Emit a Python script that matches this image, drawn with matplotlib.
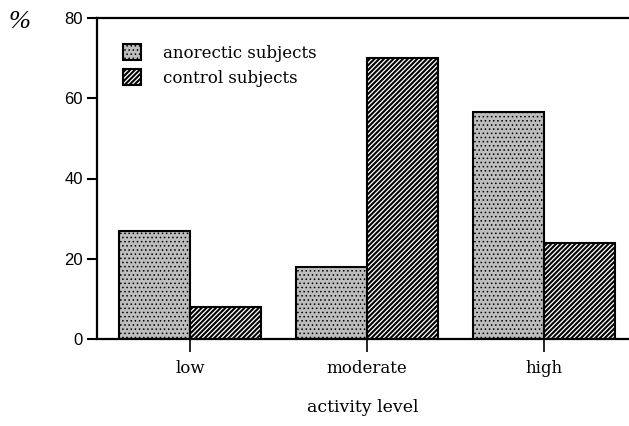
import matplotlib.pyplot as plt
import numpy as np

levels = ["low", "moderate", "high"]
anorectic = [27, 18, 56.5]
control = [8, 70, 24]
yticks = [0, 20, 40, 60, 80]

serif = "DejaVu Serif"
sans = "Liberation Sans"
plt.rcParams["hatch.linewidth"] = 1.5

fig = plt.figure(figsize=(6.29, 4.26), dpi=100)
ax = fig.add_axes([97 / 629, 87 / 426, 532 / 629, 321 / 426])

x = np.arange(len(levels))
w = 0.4
stip = ax.bar(x, anorectic, width=-w, align="edge", color="#bdbdbd", edgecolor="black",
              linewidth=1.5, hatch="....", label="anorectic subjects", zorder=2)
for p in stip.patches:
    if hasattr(p, "set_hatch_linewidth"):
        p.set_hatch_linewidth(0.6)
ax.bar(x, control, width=w, align="edge", color="white", edgecolor="black",
       linewidth=1.5, hatch="///////", label="control subjects", zorder=2)

ax.set_xlim(-0.525, 2.48)
ax.set_ylim(0, 80)
ax.set_yticks(yticks)
ax.set_xticks(x)
ax.set_xticklabels(levels, fontfamily=serif, fontsize=12)
for t in ax.get_yticklabels():
    t.set_fontfamily(sans)
    t.set_fontsize(12)

ax.spines["right"].set_visible(False)
for s in ["left", "bottom", "top"]:
    ax.spines[s].set_linewidth(1.6)
ax.tick_params(axis="y", direction="out", length=7, width=1.5, pad=3)
ax.tick_params(axis="x", direction="out", length=9, width=1.2, pad=6)

ax.set_xlabel("activity level", fontfamily=serif, fontsize=12.5, labelpad=16)
fig.text(8 / 629, 1 - 22 / 426, "%", fontfamily="Liberation Serif", fontstyle="italic",
         fontsize=19, va="center", ha="left")

leg = ax.legend(loc="upper left", bbox_to_anchor=(0.02, 0.965), frameon=False,
                prop={"family": serif, "size": 12}, handlelength=1.1,
                handleheight=1.05, handletextpad=1.3, labelspacing=0.45)
for h in leg.legend_handles:
    if hasattr(h, "set_hatch_linewidth") and h.get_hatch() == "....":
        h.set_hatch_linewidth(0.6)

fig.savefig("out.png", dpi=100)
